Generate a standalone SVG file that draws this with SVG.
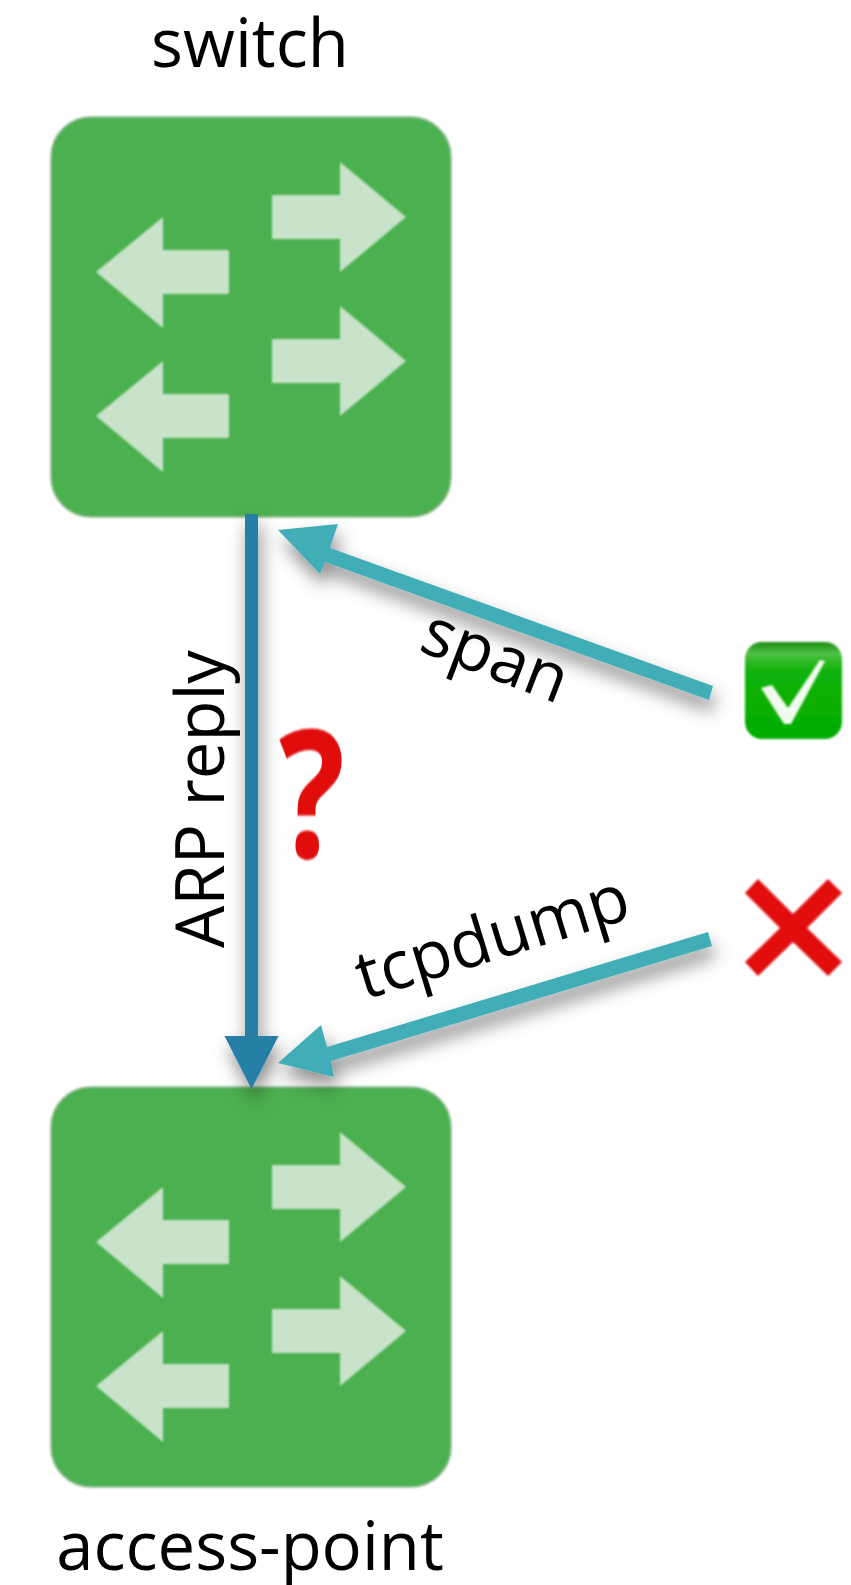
<svg xmlns="http://www.w3.org/2000/svg" width="851" height="1585" viewBox="0 0 851 1585">
<style>
.lbl{font-family:"Open Sans","Noto Sans","Liberation Sans",sans-serif;font-size:67px;fill:#000}
.box{fill:#4cb04f;stroke:#8fbb91;stroke-width:1.5}
.ar{fill:#c8e3c9}
.soft{filter:url(#soft)}
</style>
<defs>
<filter id="soft" x="-10%" y="-10%" width="120%" height="120%"><feGaussianBlur stdDeviation="0.8"/></filter>
<filter id="shadow" x="-40%" y="-40%" width="180%" height="180%"><feDropShadow dx="3" dy="11" stdDeviation="9" flood-color="#000" flood-opacity="0.45"/></filter>
<linearGradient id="chk" x1="0" y1="0" x2="0" y2="1"><stop offset="0" stop-color="#1a8a10"/><stop offset="0.12" stop-color="#4fc043"/><stop offset="0.3" stop-color="#0cb208"/><stop offset="1" stop-color="#04ad02"/></linearGradient>
<g id="icon">
<rect class="box soft" x="51" y="117" width="400" height="400" rx="40" ry="40"/>
<path class="ar soft" d="M272 195H340V162L406 217L340 272V239H272Z"/>
<path class="ar soft" d="M272 339H340V306L406 361L340 416V383H272Z"/>
<path class="ar soft" d="M229 250H163V217L96 272L163 328V294H229Z"/>
<path class="ar soft" d="M229 394H163V361L96 416L163 472V438H229Z"/>
</g>
</defs>
<rect width="851" height="1585" fill="#fff"/>
<g id="switch"><use href="#icon"/><text class="lbl" x="250" y="67" text-anchor="middle">switch</text></g>
<g id="access-point"><use href="#icon" y="970"/><text class="lbl" x="250" y="1570" text-anchor="middle">access-point</text></g>
<g id="connectors">
<g filter="url(#shadow)"><path fill="#257fa6" d="M245 514H258V1036H278.500L251.500 1089L224.500 1036H245Z"/></g>
<g filter="url(#shadow)"><path fill="#41adb7" d="M278 530L338 524L330 548L713 686L709 700L325 562L320 574Z"/></g>
<g filter="url(#shadow)"><path fill="#41adb7" d="M278 1063L321 1025L327 1047L708 932L712 946L331 1061L334 1077Z"/></g>
</g>
<g id="labels">
<text class="lbl" transform="translate(224 948) rotate(-90)">ARP reply</text>
<text class="lbl" transform="translate(417 650) rotate(21)">span</text>
<text class="lbl" transform="translate(364 1000) rotate(-17)">tcpdump</text>
</g>
<g id="question"><text class="soft" transform="translate(279 858) scale(0.78 1)" font-family="Open Sans,Noto Sans,sans-serif" font-weight="700" font-size="177" fill="#e10a0a">?</text></g>
<g id="check">
<rect x="745" y="642" width="97" height="97" rx="17" fill="url(#chk)" class="soft"/>
<path class="soft" fill="#f2fbf0" d="M761 688L772 685L788 708L820 660L825 661L791 724H784Z"/>
</g>
<g id="cross">
<path class="soft" fill="#e20a10" d="M758 879L793 914L828 879L842 893L807 928L842 962L828 976L793 942L758 976L745 962L780 928L745 893Z"/>
</g>
</svg>
